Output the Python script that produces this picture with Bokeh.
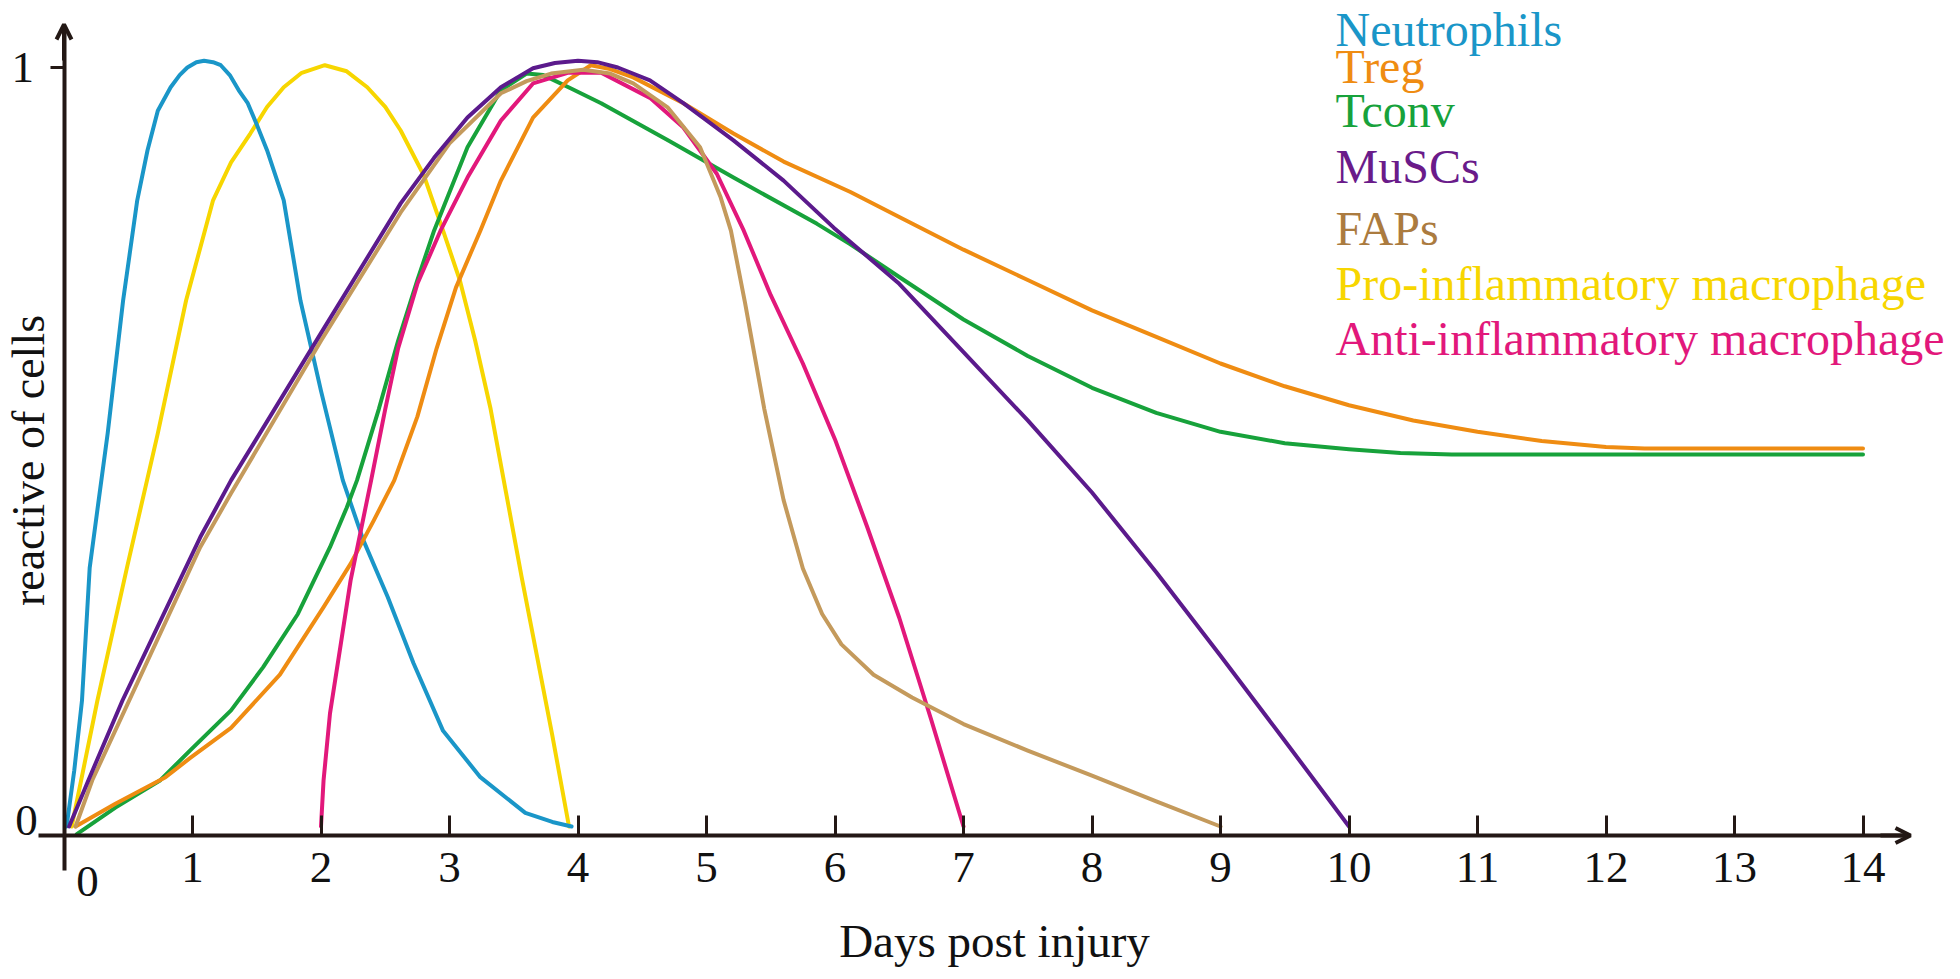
from bokeh.plotting import figure
from bokeh.models import Range1d, FixedTicker, Label, Arrow, OpenHead
from bokeh.embed import file_html
from bokeh.resources import INLINE
import math

# ---------------- data ----------------
series_names = ["Neutrophils", "Treg", "Tconv", "MuSCs", "FAPs",
                "Pro-inflammatory macrophage", "Anti-inflammatory macrophage"]

neut_x = [0.02, 0.08, 0.14, 0.2, 0.27, 0.34, 0.46, 0.57, 0.65, 0.73, 0.83, 0.9, 0.96, 1.03, 1.09, 1.16, 1.22,
          1.29, 1.36, 1.43, 1.5, 1.58, 1.71, 1.84, 2.0, 2.17, 2.33, 2.52, 2.72, 2.95, 3.24, 3.59, 3.8, 3.95]
neut_y = [0.0, 0.074, 0.166, 0.341, 0.43, 0.518, 0.693, 0.825, 0.891, 0.943, 0.974, 0.99, 1.0, 1.007, 1.009, 1.007, 1.003,
          0.99, 0.97, 0.953, 0.925, 0.891, 0.825, 0.693, 0.574, 0.456, 0.377, 0.302, 0.215, 0.126, 0.065, 0.018, 0.006, 0.0]

pro_x = [0.06, 0.26, 0.49, 0.73, 0.95, 1.16, 1.3, 1.45, 1.58, 1.71, 1.85, 2.03, 2.2, 2.36, 2.5, 2.62, 2.8, 2.95,
         3.08, 3.2, 3.32, 3.44, 3.56, 3.68, 3.8, 3.93]
pro_y = [0.0, 0.166, 0.341, 0.518, 0.693, 0.825, 0.875, 0.913, 0.948, 0.974, 0.993, 1.003, 0.995, 0.974, 0.948, 0.917,
         0.858, 0.785, 0.72, 0.64, 0.55, 0.44, 0.33, 0.225, 0.12, 0.0]

musc_x = [0.04, 0.19, 0.455, 1.06, 1.3, 2.0, 2.62, 2.88, 3.14, 3.4, 3.65, 3.82, 4.0, 4.15, 4.31, 4.56, 4.82,
          5.21, 5.6, 5.99, 6.5, 7.0, 7.5, 8.0, 8.5, 9.0, 9.5, 10.0]
musc_y = [0.0, 0.061, 0.166, 0.381, 0.456, 0.65, 0.821, 0.881, 0.934, 0.974, 0.999, 1.006, 1.009, 1.007, 1.0, 0.983, 0.953,
          0.904, 0.851, 0.789, 0.715, 0.625, 0.535, 0.44, 0.335, 0.225, 0.113, 0.0]

faps_x = [0.09, 0.22, 1.06, 1.3, 2.0, 2.62, 3.0, 3.4, 3.6, 3.79, 4.04, 4.25, 4.43, 4.7, 4.95, 5.11, 5.19, 5.3, 5.45,
          5.6, 5.75, 5.9, 6.05, 6.3, 6.6, 7.0, 7.5, 8.0, 8.5, 9.0]
faps_y = [0.0, 0.061, 0.368, 0.439, 0.64, 0.809, 0.9, 0.966, 0.982, 0.992, 0.997, 0.992, 0.979, 0.947, 0.895, 0.829, 0.785, 0.69, 0.55,
          0.43, 0.34, 0.28, 0.24, 0.2, 0.17, 0.135, 0.1, 0.067, 0.033, 0.0]

anti_x = [2.0, 2.02, 2.07, 2.15, 2.23, 2.31, 2.39, 2.5, 2.6, 2.75, 2.93, 3.14, 3.4, 3.65, 3.92, 4.18, 4.56,
          4.82, 5.08, 5.29, 5.5, 5.75, 6.0, 6.25, 6.5, 6.75, 7.0]
anti_y = [0.0, 0.061, 0.149, 0.236, 0.324, 0.39, 0.456, 0.55, 0.63, 0.715, 0.785, 0.855, 0.93, 0.979, 0.993, 0.993, 0.96,
          0.921, 0.86, 0.785, 0.70, 0.61, 0.51, 0.395, 0.275, 0.14, 0.0]

tconv_x = [0.1, 0.4, 0.75, 0.98, 1.3, 1.55, 1.82, 2.07, 2.2, 2.28, 2.45, 2.6, 2.75, 2.88, 3.14, 3.4, 3.6, 3.73,
           3.95, 4.18, 4.7, 5.21, 5.86, 6.12, 6.5, 7.0, 7.5, 8.0, 8.5, 9.0, 9.5, 10.0, 10.4, 10.8, 14.0]
tconv_y = [-0.01, 0.025, 0.061, 0.1, 0.153, 0.21, 0.28, 0.368, 0.42, 0.456, 0.55, 0.64, 0.72, 0.785, 0.895, 0.97, 0.992, 0.99,
           0.972, 0.953, 0.904, 0.855, 0.794, 0.767, 0.724, 0.668, 0.62, 0.578, 0.545, 0.52, 0.505, 0.497, 0.492, 0.49, 0.49]

treg_x = [0.09, 0.4, 0.79, 0.98, 1.3, 1.68, 2.02, 2.23, 2.41, 2.57, 2.75, 2.9, 3.05, 3.24, 3.4, 3.65, 3.92, 4.1, 4.25,
          4.43, 4.82, 5.21, 5.6, 6.12, 6.5, 7.0, 7.5, 8.0, 8.5, 9.0, 9.5, 10.0, 10.5, 11.0, 11.5, 12.0, 12.3, 14.0]
treg_y = [0.0, 0.03, 0.065, 0.09, 0.13, 0.2, 0.289, 0.346, 0.403, 0.456, 0.54, 0.63, 0.71, 0.785, 0.851, 0.934, 0.983, 1.003, 0.998,
          0.987, 0.953, 0.913, 0.876, 0.836, 0.803, 0.76, 0.72, 0.68, 0.645, 0.61, 0.58, 0.555, 0.535, 0.52, 0.508, 0.5, 0.498, 0.498]

x_ticks = list(range(1, 15))
y_ticks = [1]

# ---------------- styling ----------------
W, H = 1956, 976
FONT = "Liberation Serif"
INK = "#231815"

def dx(px):  # page pixel -> day
    return (px - 63.5) / 128.5

def dy(py):  # page pixel -> value
    return (826.0 - py) / 759.0

p = figure(width=W, height=H, output_backend="svg", toolbar_location=None,
           x_range=Range1d(dx(0), dx(W)), y_range=Range1d(dy(H), dy(0)),
           min_border=0, min_border_left=0, min_border_right=0,
           min_border_top=0, min_border_bottom=0)
p.outline_line_color = None
p.grid.visible = False
p.background_fill_color = "white"

# x axis
xa = p.xaxis[0]
xa.fixed_location = dy(835)
xa.bounds = (dx(38), dx(1908))
xa.ticker = FixedTicker(ticks=x_ticks)
xa.axis_line_width = 4
xa.axis_line_color = INK
xa.major_tick_line_width = 3
xa.major_tick_line_color = INK
xa.major_tick_in = 20
xa.major_tick_out = 0
xa.minor_tick_line_color = None
xa.major_label_text_font = FONT
xa.major_label_text_font_size = "45px"
xa.major_label_text_color = "#111111"
xa.major_label_standoff = 17

# y axis
ya = p.yaxis[0]
ya.fixed_location = dx(63.5)
ya.bounds = (dy(870), dy(27))
ya.ticker = FixedTicker(ticks=y_ticks)
ya.axis_line_width = 4
ya.axis_line_color = INK
ya.major_tick_line_width = 3
ya.major_tick_line_color = INK
ya.major_tick_in = 0
ya.major_tick_out = 14
ya.minor_tick_line_color = None
ya.major_label_text_font = FONT
ya.major_label_text_font_size = "45px"
ya.major_label_text_color = "#111111"
ya.major_label_standoff = 16
ya.major_label_orientation = "horizontal"

# arrow heads
p.add_layout(Arrow(end=OpenHead(size=15, line_width=4, line_color=INK),
                   x_start=dx(1880), y_start=dy(835), x_end=dx(1910), y_end=dy(835),
                   line_width=4, line_color=INK))
p.add_layout(Arrow(end=OpenHead(size=15, line_width=4, line_color=INK),
                   x_start=dx(63.5), y_start=dy(60), x_end=dx(63.5), y_end=dy(24),
                   line_width=4, line_color=INK))

# zero labels
p.add_layout(Label(x=dx(87), y=dy(881), text="0", text_align="center", text_baseline="middle",
                   text_font=FONT, text_font_size="45px", text_color="#111111"))
p.add_layout(Label(x=dx(26), y=dy(820), text="0", text_align="center", text_baseline="middle",
                   text_font=FONT, text_font_size="45px", text_color="#111111"))

# axis titles
p.add_layout(Label(x=dx(994), y=dy(940), text="Days post injury", text_align="center",
                   text_baseline="alphabetic", text_font=FONT, text_font_size="47px",
                   text_color="#111111"))
p.add_layout(Label(x=dx(28), y=dy(460), text="reactive of cells", text_align="center",
                   text_baseline="middle", angle=math.pi / 2, text_font=FONT,
                   text_font_size="46px", text_color="#111111"))

# curves
line_colors = {
    "Neutrophils": "#1a96c8",
    "Treg": "#ef8c12",
    "Tconv": "#17a23b",
    "MuSCs": "#5b1a8c",
    "FAPs": "#c49a5c",
    "Pro-inflammatory macrophage": "#f7d600",
    "Anti-inflammatory macrophage": "#e2187b",
}
text_colors = dict(line_colors)
text_colors["FAPs"] = "#ab7b3f"
text_colors["MuSCs"] = "#6a1b8a"

curves = [
    ("Pro-inflammatory macrophage", pro_x, pro_y),
    ("Neutrophils", neut_x, neut_y),
    ("Tconv", tconv_x, tconv_y),
    ("Treg", treg_x, treg_y),
    ("Anti-inflammatory macrophage", anti_x, anti_y),
    ("FAPs", faps_x, faps_y),
    ("MuSCs", musc_x, musc_y),
]
for name, xs, ys in curves:
    p.line(xs, ys, line_width=4, line_color=line_colors[name], line_join="round", line_cap="round")

# legend-like labels
legend_baselines = [29, 66, 110, 166, 228, 283, 338]
for name, base in zip(series_names, legend_baselines):
    p.add_layout(Label(x=dx(1335), y=dy(base), text=name, text_align="left",
                       text_baseline="alphabetic", text_font=FONT, text_font_size="48px",
                       text_color=text_colors[name]))

open("out.html", "w").write(file_html(p, INLINE))
